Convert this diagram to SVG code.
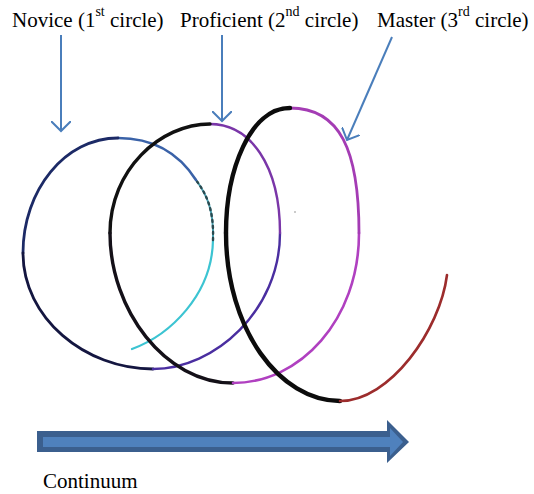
<svg xmlns="http://www.w3.org/2000/svg" width="534" height="494" viewBox="0 0 534 494">
<defs>
<style>
.lbl{font-family:"Liberation Serif","Times New Roman",serif;font-size:21px;fill:#000}
.sup{font-size:14px}
.ptr{stroke:#4a7ebb;stroke-width:2;fill:none}
.sp{fill:none;stroke-linecap:round}
</style>
<marker id="vhead" viewBox="0 0 20 20" refX="10" refY="10" markerWidth="20" markerHeight="20" markerUnits="userSpaceOnUse" orient="auto">
<path d="M0,0 L10,10 L0,20" fill="none" stroke="#4a7ebb" stroke-width="2"/>
</marker>
</defs>
<rect width="534" height="494" fill="#fff"/>
<g id="label-novice"><text class="lbl" x="12" y="27">Novice (1<tspan class="sup" dy="-11">st</tspan><tspan dy="11"> circle)</tspan></text></g>
<g id="label-proficient"><text class="lbl" x="180" y="27">Proficient (2<tspan class="sup" dy="-11">nd</tspan><tspan dy="11"> circle)</tspan></text></g>
<g id="label-master"><text class="lbl" x="377" y="27">Master (3<tspan class="sup" dy="-11">rd</tspan><tspan dy="11"> circle)</tspan></text></g>
<g id="connectors">
<path class="ptr" d="M61,35 L61,131" marker-end="url(#vhead)"/>
<path class="ptr" d="M222,35 L222,121" marker-end="url(#vhead)"/>
<path class="ptr" d="M392,37 L347,140" marker-end="url(#vhead)"/>
</g>
<g id="spiral">
<path class="sp" d="M132,349 C170,335 212,295 213,240" stroke="#3cc4d2" stroke-width="2.2"/>
<path class="sp" d="M213,240 C214,210 207,195 196,180" stroke="#4aa0b0" stroke-width="2"/>
<path class="sp" d="M213,240 C214,210 207,195 196,180" stroke="#2a4a50" stroke-width="2.4" stroke-dasharray="2 4"/>
<path class="sp" d="M196,180 C180,155 155,138 118,138" stroke="#3a62a8" stroke-width="2.6"/>
<path class="sp" d="M118,138 C65,138 23,190 23,253" stroke="#1c2a66" stroke-width="2.8"/>
<path class="sp" d="M23,253 C23,318 85,369 153,369" stroke="#141640" stroke-width="2.8"/>
<path class="sp" d="M153,369 C215,369 280,310 280,233" stroke="#4a2ea0" stroke-width="2.4"/>
<path class="sp" d="M280,233 C280,165 250,124 210,124" stroke="#7a36a8" stroke-width="2.4"/>
<path class="sp" d="M210,124 C160,124 110,170 110,233" stroke="#111" stroke-width="3.4"/>
<path class="sp" d="M110,233 C110,310 165,383 233,383" stroke="#141018" stroke-width="3.4"/>
<path class="sp" d="M233,383 C300,383 359,320 359,233" stroke="#b040c0" stroke-width="2.6"/>
<path class="sp" d="M359,233 C359,150 340,108 290,108" stroke="#a43cb4" stroke-width="2.8"/>
<path class="sp" d="M290,108 C250,108 226,170 226,233" stroke="#0c0c0c" stroke-width="4.4"/>
<path class="sp" d="M226,233 C226,330 280,401 340,401" stroke="#0c0c0c" stroke-width="4.4"/>
<path class="sp" d="M340,401 C390,401 440,330 447,275" stroke="#9c2c2c" stroke-width="2.6"/>
<circle cx="295" cy="212" r="0.8" fill="#888"/>
</g>
<g id="continuum-arrow">
<path d="M37,431 L387,431 L387,420 L409,442 L387,463 L387,452 L37,452 Z" fill="#3b5f8e"/>
<path d="M43,437 L390,437 L390,428 L403,442 L390,456 L390,447 L43,447 Z" fill="#4f81bd"/>
</g>
<g id="label-continuum"><text class="lbl" x="43" y="488">Continuum</text></g>
</svg>
